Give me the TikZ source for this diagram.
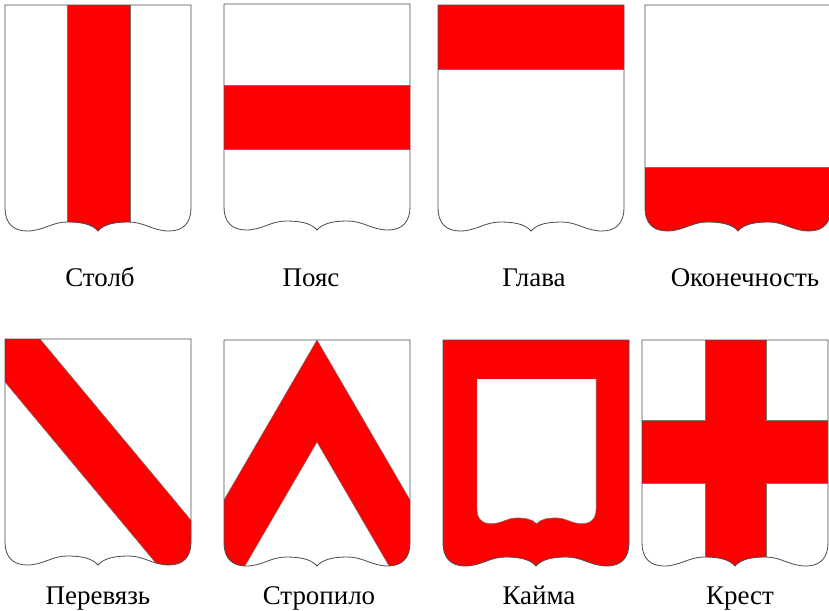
\documentclass[tikz,border=0pt]{standalone}
\usepackage{fontspec}
\setmainfont{Liberation Serif}
\newfontfamily\shieldfont{Liberation Serif}

\tikzset{
  shieldline/.style={draw=black!70, line width=0.7pt},
  charge/.style={fill=red, draw=black!55, line width=0.4pt},
  shieldname/.style={font=\shieldfont\fontsize{23}{27}\selectfont, anchor=base, inner sep=0pt},
}
% outline of one shield, top-left corner at the origin, y downwards
\newcommand{\shieldoutline}{(0,0) -- (186,0) -- (186,203)
  .. controls (186,218) and (178,226) .. (164,226)
  .. controls (148,226) and (139,217) .. (124,217)
  .. controls (110,217) and (99,219) .. (93,226)
  .. controls (87,219) and (76,217) .. (62,217)
  .. controls (47,217) and (38,226) .. (22,226)
  .. controls (8,226) and (0,218) .. (0,203) -- cycle}

\begin{document}
\begin{tikzpicture}[x=0.03cm, y=-0.03cm]
  \useasboundingbox (0,0) rectangle (829,611);

  % pale
  \begin{scope}[shift={(5,5)}]
    \begin{scope}
      \clip \shieldoutline;
      \fill[charge] (62,-5) rectangle (125,240);
    \end{scope}
    \draw[shieldline] \shieldoutline;
  \end{scope}

  % fess
  \begin{scope}[shift={(224,4)}]
    \begin{scope}
      \clip \shieldoutline;
      \fill[charge] (-5,81) rectangle (195,145);
    \end{scope}
    \draw[shieldline] \shieldoutline;
  \end{scope}

  % chief
  \begin{scope}[shift={(438,5)}]
    \begin{scope}
      \clip \shieldoutline;
      \fill[charge] (-5,-5) rectangle (195,64);
    \end{scope}
    \draw[shieldline] \shieldoutline;
  \end{scope}

  % base
  \begin{scope}[shift={(645,5)}]
    \begin{scope}
      \clip \shieldoutline;
      \fill[charge] (-5,162) rectangle (195,240);
    \end{scope}
    \draw[shieldline] \shieldoutline;
  \end{scope}

  % bend
  \begin{scope}[shift={(5,339)}]
    \begin{scope}
      \clip \shieldoutline;
      \fill[charge] (-20,-66) -- (250,258) -- (200,283) -- (-60,-29) -- cycle;
    \end{scope}
    \draw[shieldline] \shieldoutline;
  \end{scope}

  % chevron
  \begin{scope}[shift={(224,340)}]
    \begin{scope}
      \clip \shieldoutline;
      \fill[charge] (93,0) -- (268,301) -- (208.7,301) -- (93,102)
        -- (-22.7,301) -- (-82,301) -- cycle;
    \end{scope}
    \draw[shieldline] \shieldoutline;
  \end{scope}

  % bordure
  \begin{scope}[shift={(443,340)}]
    \fill[red] \shieldoutline;
    \begin{scope}[shift={(34,39)}, scale=0.64]
      \fill[white, draw=black!55, line width=0.4pt] \shieldoutline;
    \end{scope}
    \draw[shieldline] \shieldoutline;
  \end{scope}

  % cross
  \begin{scope}[shift={(642,340)}]
    \begin{scope}
      \clip \shieldoutline;
      \fill[charge] (63,-5) rectangle (124,240);
      \fill[charge] (-5,80) rectangle (195,143);
      \fill[red] (64,79) rectangle (123,144);
    \end{scope}
    \draw[shieldline] \shieldoutline;
  \end{scope}

  \node[shieldname] (stolb) at (100,286) {Столб};
  \node[shieldname] (poyas) at (311,286) {Пояс};
  \node[shieldname] (glava) at (534,286) {Глава};
  \node[shieldname] (okonech) at (745,286) {Оконечность};
  \node[shieldname] (perevyaz) at (98,604) {Перевязь};
  \node[shieldname] (stropilo) at (319,604) {Стропило};
  \node[shieldname] (kaima) at (539,604) {Кайма};
  \node[shieldname] (krest) at (740,604) {Крест};
\end{tikzpicture}
\end{document}
